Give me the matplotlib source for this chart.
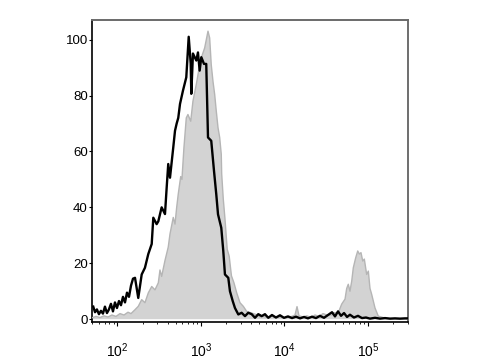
import numpy as np
import matplotlib
matplotlib.use("Agg")
import matplotlib.pyplot as plt
from matplotlib.ticker import LogLocator, FixedLocator, NullFormatter

plt.rcParams['font.family'] = ['Liberation Sans', 'DejaVu Sans']
plt.rcParams['mathtext.fontset'] = 'custom'
plt.rcParams['mathtext.rm'] = 'Liberation Sans'
plt.rcParams['mathtext.default'] = 'regular'

# Control (black line): log10 fluorescence, % of max
ctrl_log = [1.710, 1.731, 1.754, 1.778, 1.802, 1.826, 1.850, 1.874, 1.898, 1.922,
            1.946, 1.970, 1.994, 2.018, 2.042, 2.066, 2.090, 2.114, 2.138, 2.162,
            2.186, 2.210, 2.249, 2.290, 2.329, 2.369, 2.410, 2.429, 2.469, 2.489,
            2.529, 2.569, 2.589, 2.608, 2.629, 2.668, 2.689, 2.709, 2.728, 2.749,
            2.784, 2.824, 2.853, 2.877, 2.884, 2.904, 2.944, 2.964, 2.984, 3.004,
            3.036, 3.063, 3.084, 3.123, 3.156, 3.183, 3.204, 3.243, 3.267, 3.287,
            3.327, 3.347, 3.380, 3.407, 3.447, 3.487, 3.527, 3.566, 3.607, 3.647,
            3.686, 3.727, 3.766, 3.806, 3.850, 3.898, 3.946, 3.994, 4.042, 4.090,
            4.138, 4.186, 4.234, 4.281, 4.329, 4.377, 4.425, 4.473, 4.521, 4.569,
            4.605, 4.641, 4.677, 4.713, 4.749, 4.784, 4.832, 4.880, 4.928, 4.976,
            5.024, 5.084, 5.144, 5.204, 5.263, 5.323, 5.383, 5.443, 5.479]
ctrl_pct = [4.5, 2.5, 3.5, 1.8, 3.0, 2.0, 4.5, 2.2, 3.5, 5.5,
            2.8, 6.0, 4.0, 6.5, 5.0, 8.0, 6.0, 9.5, 8.0, 12.0,
            14.5, 14.8, 7.6, 16.0, 18.4, 23.3, 26.9, 36.3, 34.0, 35.0,
            40.0, 37.6, 47.0, 55.5, 50.6, 61.4, 67.4, 70.0, 72.0, 77.0,
            81.7, 86.5, 101.0, 91.4, 80.6, 95.0, 92.5, 95.4, 88.9, 93.7,
            91.3, 91.3, 65.0, 63.8, 53.0, 44.7, 37.5, 32.7, 24.4, 16.0,
            14.8, 10.0, 6.5, 4.0, 1.7, 2.3, 1.1, 2.3, 1.8, 0.5,
            1.8, 1.1, 1.8, 0.5, 1.5, 0.6, 1.4, 0.5, 1.0, 0.4,
            0.9, 0.3, 0.8, 0.3, 0.9, 0.4, 1.2, 0.5, 1.5, 2.5,
            1.0, 2.8, 1.2, 2.2, 0.8, 1.6, 0.6, 1.2, 0.4, 0.6,
            0.2, 0.5, 0.2, 0.4, 0.2, 0.3, 0.2, 0.3, 0.3]

# Stained sample (grey filled): log10 fluorescence, % of max
stain_log = [1.695, 1.743, 1.790, 1.838, 1.886, 1.934, 1.982, 2.030, 2.078, 2.126,
             2.162, 2.210, 2.249, 2.290, 2.329, 2.369, 2.410, 2.449, 2.489, 2.509,
             2.529, 2.569, 2.608, 2.629, 2.668, 2.689, 2.709, 2.728, 2.757, 2.772,
             2.796, 2.824, 2.844, 2.877, 2.904, 2.944, 2.972, 3.004, 3.044, 3.084,
             3.104, 3.123, 3.144, 3.164, 3.183, 3.204, 3.224, 3.243, 3.248, 3.267,
             3.287, 3.314, 3.338, 3.365, 3.395, 3.428, 3.467, 3.507, 3.547, 3.607,
             3.667, 3.707, 3.746, 3.802, 3.850, 3.898, 3.946, 3.994, 4.042, 4.090,
             4.126, 4.150, 4.174, 4.222, 4.269, 4.317, 4.365, 4.413, 4.461, 4.509,
             4.565, 4.585, 4.644, 4.685, 4.725, 4.745, 4.764, 4.784, 4.805, 4.824,
             4.853, 4.877, 4.896, 4.916, 4.937, 4.956, 4.984, 5.004, 5.024, 5.044,
             5.084, 5.123, 5.180, 5.240, 5.323, 5.407, 5.479]
stain_pct = [0.5, 1.0, 0.6, 1.2, 0.8, 1.5, 1.0, 2.0, 1.5, 2.5,
             2.0, 3.4, 4.6, 7.0, 5.9, 9.4, 11.7, 10.5, 13.0, 17.6,
             15.3, 21.0, 25.8, 30.5, 36.4, 34.0, 40.0, 44.8, 51.0, 50.0,
             61.4, 72.0, 73.2, 70.8, 78.0, 84.0, 88.8, 93.5, 97.0, 103.0,
             100.6, 91.0, 85.0, 80.4, 74.5, 68.5, 65.0, 59.0, 52.0, 43.0,
             36.0, 25.0, 22.5, 15.5, 13.0, 9.4, 5.9, 4.6, 2.8, 2.2,
             1.6, 0.8, 1.0, 0.6, 1.2, 0.5, 0.9, 0.4, 0.8, 1.0,
             1.5, 4.5, 1.2, 0.8, 1.2, 0.6, 1.5, 1.0, 2.0, 1.5,
             1.5, 2.3, 2.3, 5.4, 7.2, 11.0, 12.5, 10.0, 13.6, 18.4,
             22.0, 24.4, 23.3, 23.8, 20.8, 21.5, 16.0, 17.2, 11.0, 8.9,
             4.0, 1.1, 0.6, 0.3, 0.2, 0.2, 0.1]

y_ticks = [0, 20, 40, 60, 80, 100]
x_ticks = [1e2, 1e3, 1e4, 1e5]
x_labels = ['$10^{2}$', '$10^{3}$', '$10^{4}$', '$10^{5}$']

fig = plt.figure(figsize=(4.8, 3.6), dpi=100)
ax = fig.add_axes([92/480, 1 - 322/360, (408-92)/480, (322-20)/360])

xs = 10 ** np.array(stain_log)
ax.fill_between(xs, 0, stain_pct, facecolor='#d3d3d3', edgecolor='none', zorder=2)
ax.plot(xs, stain_pct, color='#b5b5b5', lw=1.0, zorder=3)
ax.plot(10 ** np.array(ctrl_log), ctrl_pct, color='black', lw=1.7, zorder=4)

ax.set_xscale('log')
ax.set_xlim(10 ** 1.695, 10 ** 5.479)
ax.set_ylim(-1, 107)

ax.set_yticks(y_ticks)
ax.set_yticklabels([str(v) for v in y_ticks])
ax.xaxis.set_major_locator(FixedLocator(x_ticks))
ax.set_xticklabels(x_labels)
ax.xaxis.set_minor_locator(LogLocator(base=10, subs=np.arange(2, 10)))
ax.xaxis.set_minor_formatter(NullFormatter())

ax.tick_params(axis='y', length=2, width=0.8, pad=1, labelsize=9.5, colors='black')
ax.tick_params(axis='x', which='major', length=3, width=0.8, pad=11, labelsize=10)
ax.tick_params(axis='x', which='minor', length=1.5, width=0.6)

ax.spines['left'].set_color('black')
ax.spines['left'].set_linewidth(1.2)
ax.spines['bottom'].set_color('black')
ax.spines['bottom'].set_linewidth(1.2)
ax.spines['top'].set_color('#6a6a6a')
ax.spines['top'].set_linewidth(1.4)
ax.spines['right'].set_color('#555555')
ax.spines['right'].set_linewidth(1.2)

fig.savefig('out.png', dpi=100)
